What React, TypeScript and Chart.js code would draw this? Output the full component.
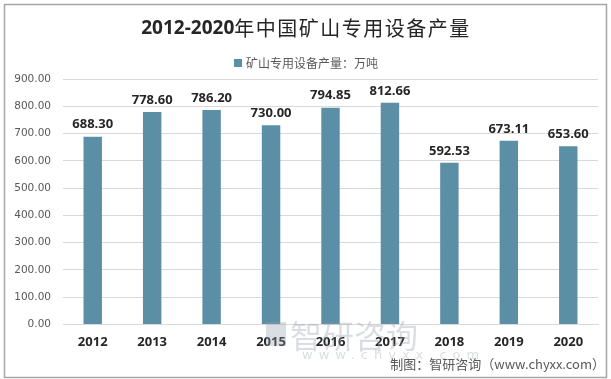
import React, { useEffect, useRef } from "react";
import { Chart, registerables } from "chart.js";

Chart.register(...registerables);

const years = ["2012", "2013", "2014", "2015", "2016", "2017", "2018", "2019", "2020"];
const output = [688.3, 778.6, 786.2, 730.0, 794.85, 812.66, 592.53, 673.11, 653.6];
const seriesName = "矿山专用设备产量：万吨";
const titleYears = "2012-2020";
const titleRest = "年中国矿山专用设备产量";
const sourceText = "制图：智研咨询（www.chyxx.com）";
const yMax = 900;
const yStep = 100;

const CJK = "'Noto Sans CJK SC', 'Noto Sans', sans-serif";
const LATIN = "'Open Sans', 'Liberation Sans', sans-serif";
const BAR_COLOR = "#5b8fa6";

const decorPlugin = {
  id: "decor",
  beforeDraw(chart: any) {
    const ctx = chart.ctx;
    ctx.save();
    ctx.fillStyle = "#ffffff";
    ctx.fillRect(0, 0, chart.width, chart.height);
    ctx.strokeStyle = "#a6a6a6";
    ctx.lineWidth = 1.5;
    ctx.strokeRect(4.5, 4.5, 602, 373);
    // title
    ctx.fillStyle = "#262626";
    ctx.textBaseline = "middle";
    ctx.textAlign = "left";
    ctx.font = "bold 19px " + LATIN;
    const w1 = ctx.measureText(titleYears).width;
    ctx.font = "20px " + CJK;
    (ctx as any).letterSpacing = "1.5px";
    const w2 = ctx.measureText(titleRest).width;
    (ctx as any).letterSpacing = "0px";
    const x0 = 306 - (w1 + w2) / 2;
    ctx.font = "bold 19px " + LATIN;
    ctx.fillText(titleYears, x0, 29);
    ctx.font = "20px " + CJK;
    (ctx as any).letterSpacing = "1.5px";
    ctx.fillText(titleRest, x0 + w1, 28);
    (ctx as any).letterSpacing = "0px";
    // legend
    ctx.font = "12px " + CJK;
    const lw = ctx.measureText(seriesName).width;
    const lx = 306 - (lw + 12) / 2;
    ctx.fillStyle = BAR_COLOR;
    ctx.fillRect(lx, 59, 8, 8);
    ctx.fillStyle = "#595959";
    ctx.fillText(seriesName, lx + 12, 63);
    ctx.restore();
  },
  afterDatasetsDraw(chart: any) {
    const ctx = chart.ctx;
    const meta = chart.getDatasetMeta(0);
    ctx.save();
    ctx.font = "bold 13px " + LATIN;
    ctx.fillStyle = "#262626";
    ctx.textAlign = "center";
    ctx.textBaseline = "middle";
    meta.data.forEach((bar: any, i: number) => {
      ctx.fillText(output[i].toFixed(2), bar.x, bar.y - 12);
    });
    // watermark
    ctx.fillStyle = "rgba(150,160,172,0.35)";
    ctx.font = "32px " + CJK;
    ctx.textAlign = "left";
    ctx.textBaseline = "alphabetic";
    ctx.fillText("智研咨询", 290, 348);
    ctx.fillRect(266, 322, 20, 24);
    ctx.font = "13px 'DejaVu Sans', sans-serif";
    (ctx as any).letterSpacing = "6px";
    ctx.fillText("www.chyxx.com", 302, 359);
    (ctx as any).letterSpacing = "0px";
    // source
    ctx.fillStyle = "#595959";
    ctx.font = "13px " + CJK;
    ctx.textAlign = "right";
    ctx.fillText(sourceText, 605, 369);
    ctx.restore();
  },
};

export default function App() {
  const ref = useRef<HTMLCanvasElement>(null);
  useEffect(() => {
    document.body.style.margin = "0";
    const chart = new Chart(ref.current!, {
      type: "bar",
      data: {
        labels: years,
        datasets: [
          {
            label: seriesName,
            data: output,
            backgroundColor: BAR_COLOR,
            barPercentage: 0.31,
            categoryPercentage: 1,
          },
        ],
      },
      options: {
        animation: false,
        responsive: false,
        layout: { padding: { left: 8, right: 13, top: 79, bottom: 19 } },
        plugins: {
          title: { display: false },
          legend: { display: false },
          tooltip: { enabled: false },
        },
        scales: {
          x: {
            grid: { display: false, drawTicks: false },
            border: { color: "#d9d9d9" },
            ticks: {
              color: "#262626",
              font: { family: LATIN, size: 13, weight: "bold" },
              padding: 10,
            },
          },
          y: {
            min: 0,
            max: yMax,
            afterFit: (s: any) => {
              s.width = 55;
            },
            grid: { color: "#d9d9d9", drawTicks: false },
            border: { display: false },
            ticks: {
              stepSize: yStep,
              color: "#595959",
              font: { family: "'DejaVu Sans', sans-serif", size: 10.5 },
              padding: 12,
              callback: (v: any) => Number(v).toFixed(2),
            },
          },
        },
      },
      plugins: [decorPlugin],
    });
    return () => chart.destroy();
  }, []);
  return <canvas ref={ref} width={611} height={379} style={{ display: "block" }} />;
}
